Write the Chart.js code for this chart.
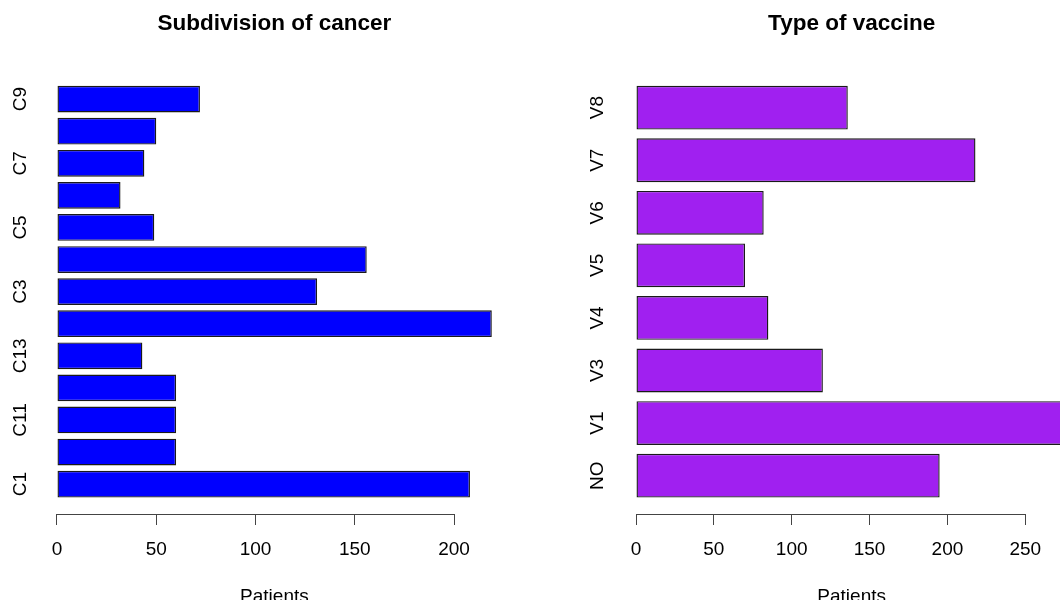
<!DOCTYPE html>
<html>
<head>
<meta charset="utf-8">
<script src="https://cdn.jsdelivr.net/npm/chart.js@4/dist/chart.umd.min.js"></script>
<style>
  html, body { margin: 0; padding: 0; background: #fff; width: 1060px; height: 600px; overflow: hidden; }
  canvas { position: absolute; top: 0; }
  #cancer { left: 0; }
  #vaccine { left: 530px; }
</style>
</head>
<body>
<canvas id="cancer" width="530" height="610"></canvas>
<canvas id="vaccine" width="580" height="610"></canvas>
<script>
// Patients per cancer subdivision (bottom to top)
const cancerTypes = ['C1', 'C10', 'C11', 'C12', 'C13', 'C2', 'C3', 'C4', 'C5', 'C6', 'C7', 'C8', 'C9'];
const cancerPatients = [208, 60, 60, 60, 43, 219, 131, 156, 49, 32, 44, 50, 72];
const cancerAxisLabels = ['C1', '', 'C11', '', 'C13', '', 'C3', '', 'C5', '', 'C7', '', 'C9'];
const cancerTicks = [0, 50, 100, 150, 200];

// Patients per vaccine type (bottom to top)
const vaccineTypes = ['NO', 'V1', 'V3', 'V4', 'V5', 'V6', 'V7', 'V8'];
const vaccinePatients = [195, 277, 120, 85, 70, 82, 218, 136];
const vaccineAxisLabels = ['NO', 'V1', 'V3', 'V4', 'V5', 'V6', 'V7', 'V8'];
const vaccineTicks = [0, 50, 100, 150, 200, 250];

const FONT = '"Liberation Sans", Arial, Helvetica, sans-serif';

// Axis line spanning only the first to the last tick, like base graphics
const axisLine = {
  id: 'axisLine',
  afterDraw(chart) {
    const xs = chart.scales.x;
    const t = xs.ticks;
    const y = Math.round(chart.chartArea.bottom) + 0.5;
    const ctx = chart.ctx;
    ctx.save();
    ctx.strokeStyle = '#444';
    ctx.lineWidth = 1;
    ctx.beginPath();
    ctx.moveTo(Math.round(xs.getPixelForValue(t[0].value)), y);
    ctx.lineTo(Math.round(xs.getPixelForValue(t[t.length - 1].value)) + 1, y);
    ctx.stroke();
    ctx.restore();
  }
};

function barplot(id, cfg) {
  const space = 0.2, width = 1;
  const pos = cfg.names.map((_, i) => space + width / 2 + i * (width + space));
  const yLo = space, yHi = cfg.names.length * (width + space);
  const yExt = 0.04 * (yHi - yLo);
  const xMax = Math.max(...cfg.values);

  return new Chart(document.getElementById(id), {
    type: 'bar',
    data: {
      datasets: [{
        data: cfg.values.map((v, i) => ({ x: v, y: pos[i] })),
        backgroundColor: cfg.fill,
        borderColor: '#1a1a1a',
        borderWidth: 1.4,
        borderSkipped: false,
        inflateAmount: 0,
        barPercentage: width / (width + space),
        categoryPercentage: 1
      }]
    },
    options: {
      indexAxis: 'y',
      responsive: false,
      animation: false,
      layout: { padding: { left: 0, right: cfg.padRight, top: 0, bottom: 0 } },
      plugins: {
        legend: { display: false },
        tooltip: { enabled: false },
        title: {
          display: true,
          text: cfg.title,
          fullSize: false,
          color: '#000',
          font: { family: FONT, size: 22.5, weight: 'bold' },
          padding: { top: 10.5, bottom: 31.8 }
        }
      },
      scales: {
        x: {
          type: 'linear',
          min: -0.04 * xMax,
          max: 1.04 * xMax,
          afterBuildTicks: s => { s.ticks = cfg.ticks.map(v => ({ value: v })); },
          afterFit: s => { s.height = 96; },
          border: { display: false },
          grid: { display: true, drawOnChartArea: false, drawTicks: true, tickLength: 11, color: '#444', lineWidth: 1 },
          ticks: { autoSkip: false, maxRotation: 0, padding: 13.5, color: '#000', font: { family: FONT, size: 19 } },
          title: { display: true, text: 'Patients', color: '#000', font: { family: FONT, size: 19 }, padding: { top: 0, bottom: 2 } }
        },
        y: {
          type: 'linear',
          offset: false,
          min: yLo - yExt,
          max: yHi + yExt,
          afterBuildTicks: s => { s.ticks = pos.map(v => ({ value: v })); },
          afterFit: s => { s.width = cfg.axisWidth; },
          border: { display: false },
          grid: { display: false, drawTicks: false },
          ticks: {
            autoSkip: false,
            minRotation: 90,
            maxRotation: 90,
            crossAlign: 'center',
            padding: cfg.labelPad,
            color: '#000',
            font: { family: FONT, size: 19 },
            callback: (v, i) => cfg.labels[i]
          }
        }
      }
    },
    plugins: [axisLine]
  });
}

barplot('cancer', {
  title: 'Subdivision of cancer',
  names: cancerTypes,
  labels: cancerAxisLabels,
  values: cancerPatients,
  ticks: cancerTicks,
  fill: '#0000ff',
  axisWidth: 39.6,
  padRight: 20.8,
  labelPad: 1.7
});

barplot('vaccine', {
  title: 'Type of vaccine',
  names: vaccineTypes,
  labels: vaccineAxisLabels,
  values: vaccinePatients,
  ticks: vaccineTicks,
  fill: '#a020f0',
  axisWidth: 88.75,
  padRight: 25.4,
  labelPad: 6.5
});
</script>
</body>
</html>
